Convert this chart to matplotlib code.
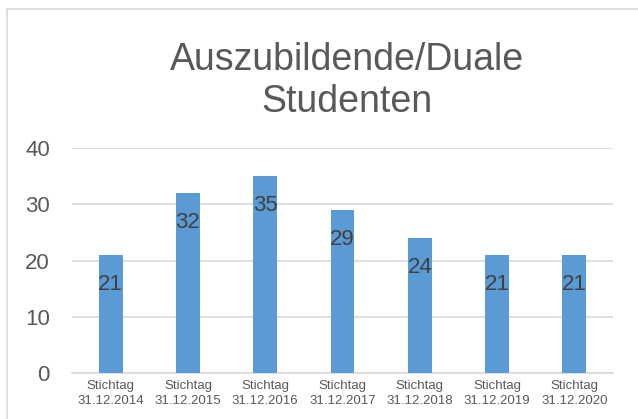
import matplotlib.pyplot as plt
from matplotlib.lines import Line2D

categories = ['Stichtag\n31.12.2014', 'Stichtag\n31.12.2015', 'Stichtag\n31.12.2016',
              'Stichtag\n31.12.2017', 'Stichtag\n31.12.2018', 'Stichtag\n31.12.2019',
              'Stichtag\n31.12.2020']
values = [21, 32, 35, 29, 24, 21, 21]

plt.rcParams['font.family'] = ['Liberation Sans', 'DejaVu Sans']
txt = '#595959'

W, H = 638, 419
fig = plt.figure(figsize=(W / 100, H / 100), dpi=100)
# plot area in pixels: x 72..613, y 148..373
ax = fig.add_axes([72 / W, 1 - 373 / H, (613 - 72) / W, (373 - 148) / H])

x = range(len(values))
ax.bar(x, values, width=0.31, color='#5B9BD5', zorder=3)
for xi, v in zip(x, values):
    ax.text(xi, v - 5.2, str(v), ha='center', va='center', fontsize=16, color='#404040', zorder=4)

ax.set_xlim(-0.5, len(values) - 0.5)
ax.set_ylim(0, 40)
ax.set_yticks([0, 10, 20, 30, 40])
ax.yaxis.grid(True, color='#D9D9D9', linewidth=1.2, zorder=0)
ax.set_xticks(list(x))
ax.set_xticklabels(categories, fontsize=9.5, color=txt, linespacing=1.3)
ax.tick_params(axis='y', labelsize=16, labelcolor=txt, length=0, pad=16)
ax.tick_params(axis='x', length=0, pad=5)
for s in ['top', 'right', 'left']:
    ax.spines[s].set_visible(False)
ax.spines['bottom'].set_color('#D9D9D9')
ax.spines['bottom'].set_linewidth(1.2)

fig.text(347 / W, 1 - 81 / H, 'Auszubildende/Duale\nStudenten', ha='center', va='center',
         fontsize=27, color=txt, linespacing=1.2)

# chart frame (top and left edges visible)
fig.add_artist(Line2D([7 / W, 1], [1 - 9 / H, 1 - 9 / H], color='#D9D9D9', linewidth=1.2))
fig.add_artist(Line2D([7 / W, 7 / W], [0, 1 - 9 / H], color='#D9D9D9', linewidth=1.2))

fig.savefig('out.png', dpi=100)
